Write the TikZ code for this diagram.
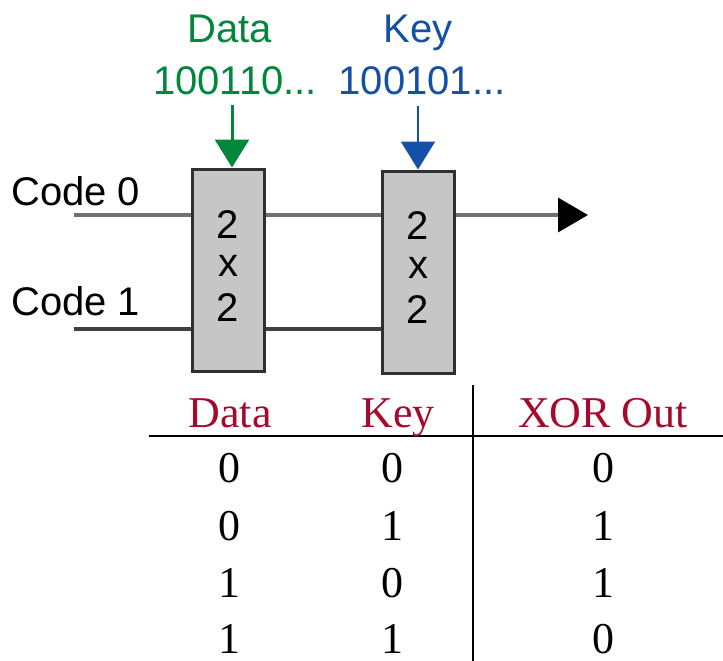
\documentclass[tikz,border=0pt]{standalone}
\usepackage{fontspec}
\setmainfont{Liberation Sans}
\newfontfamily\tabfont{Liberation Serif}
\usetikzlibrary{arrows.meta}
\definecolor{dgreen}{RGB}{0,135,60}
\definecolor{dblue}{RGB}{20,80,165}
\definecolor{dred}{RGB}{165,10,45}
\definecolor{boxfill}{RGB}{198,198,198}
\definecolor{boxline}{RGB}{48,48,48}
\definecolor{wire}{RGB}{112,112,112}
\tikzset{
  lbl/.style={anchor=base,inner sep=0pt,font=\fontsize{40}{40}\selectfont},
  gatebox/.style={draw=boxline,fill=boxfill,line width=3pt,minimum width=72pt,minimum height=202pt,inner sep=0pt},
  wireline/.style={draw=wire,line width=3.5pt},
  tabtxt/.style={anchor=base,inner sep=0pt,font=\tabfont\fontsize{44}{44}\selectfont},
  tabhead/.style={tabtxt,text=dred},
  rule/.style={line width=2.5pt,black}
}
\begin{document}
\begin{tikzpicture}[x=1pt,y=-1pt]
\useasboundingbox (0,0) rectangle (723,661);
% top labels
\node[lbl,text=dgreen] (dlab) at (230,43) {Data};
\node[lbl,text=dgreen] (dbits) at (235,95) {100110...};
\node[lbl,text=dblue] (klab) at (418,43) {Key};
\node[lbl,text=dblue] (kbits) at (422,95) {100101...};
% boxes
\node[gatebox] (b1) at (228.5,270) {};
\node[gatebox] (b2) at (418.5,272) {};
\node[lbl] (b1a) at (228,238) {2};
\node[lbl] (b1b) at (228,276) {x};
\node[lbl] (b1c) at (228,321) {2};
\node[lbl] (b2a) at (418,239) {2};
\node[lbl] (b2b) at (418,278) {x};
\node[lbl] (b2c) at (418,323) {2};
% code labels
\node[lbl,anchor=base west] (c0lab) at (11,205) {Code 0};
\node[lbl,anchor=base west] (c1lab) at (11,315) {Code 1};
% wires
\coordinate (c0) at (74,215);
\coordinate (c1) at (74,329);
\coordinate (out) at (588,215);
\draw[wireline] (c0) -- (c0 -| b1.west);
\draw[wireline,draw=black!75] (c1) -- (c1 -| b1.west);
\draw[wireline] (b1.east |- c0) -- (b2.west |- c0);
\draw[wireline,draw=black!75] (b1.east |- c1) -- (b2.west |- c1);
\draw[wireline,-{Triangle[width=34pt,length=30pt,fill=black,color=black]}] (b2.east |- c0) -- (out);
% input arrows
\coordinate (ga) at (232,105);
\coordinate (ba) at (418,106);
\draw[dgreen,line width=3pt,-{Triangle[width=34pt,length=28pt]}] (ga) -- (ga |- b1.north);
\draw[dblue,line width=2.2pt,-{Triangle[width=34pt,length=28pt]}] (ba) -- (ba |- b2.north);
% table
\draw[rule] (149,436) -- (723,436);
\draw[rule] (473,385) -- (473,661);
\node[tabhead] (h1) at (230,427) {Data};
\node[tabhead] (h2) at (398,427) {Key};
\node[tabhead] (h3) at (603,427) {XOR Out};
\node[tabtxt] (r11) at (229,482) {0};
\node[tabtxt] (r12) at (392,482) {0};
\node[tabtxt] (r13) at (603,482) {0};
\node[tabtxt] (r21) at (229,540) {0};
\node[tabtxt] (r22) at (392,540) {1};
\node[tabtxt] (r23) at (603,540) {1};
\node[tabtxt] (r31) at (229,597) {1};
\node[tabtxt] (r32) at (392,597) {0};
\node[tabtxt] (r33) at (603,597) {1};
\node[tabtxt] (r41) at (229,653) {1};
\node[tabtxt] (r42) at (392,653) {1};
\node[tabtxt] (r43) at (603,653) {0};
\end{tikzpicture}
\end{document}
